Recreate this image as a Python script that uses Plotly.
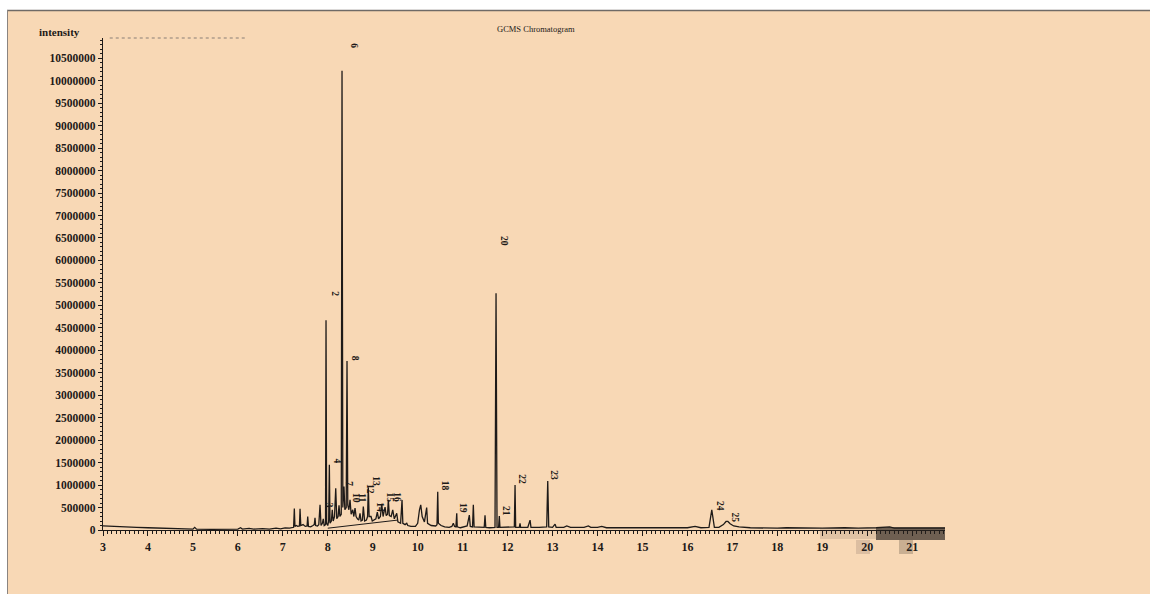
import plotly.graph_objects as go

# ---- data ----
retention_time = [
    3.00, 3.25, 3.50, 3.75, 4.00, 4.30, 4.60, 4.90, 5.00, 5.04, 5.08, 5.40, 5.70, 6.00, 6.06, 6.10,
    6.25, 6.35, 6.55, 6.70, 6.85, 6.95, 7.05, 7.15, 7.24, 7.256, 7.27, 7.30, 7.33, 7.37, 7.383, 7.40,
    7.45, 7.50, 7.54, 7.554, 7.57, 7.62, 7.67, 7.70, 7.716, 7.73, 7.77, 7.80, 7.828, 7.85, 7.88, 7.90,
    7.92, 7.95, 7.961, 7.975, 8.00, 8.02, 8.035, 8.05, 8.08, 8.10, 8.12, 8.15, 8.177, 8.20, 8.23, 8.25,
    8.27, 8.30, 8.317, 8.335, 8.36, 8.38, 8.41, 8.428, 8.445, 8.47, 8.495, 8.52, 8.555, 8.58, 8.606, 8.63,
    8.66, 8.69, 8.717, 8.74, 8.77, 8.791, 8.82, 8.86, 8.885, 8.902, 8.92, 8.962, 8.99, 9.03, 9.07, 9.102,
    9.13, 9.17, 9.20, 9.23, 9.274, 9.30, 9.33, 9.347, 9.37, 9.41, 9.445, 9.48, 9.534, 9.56, 9.62, 9.652,
    9.67, 9.72, 9.757, 9.78, 9.85, 9.95, 10.00, 10.04, 10.068, 10.10, 10.15, 10.20, 10.22, 10.30, 10.40, 10.43,
    10.446, 10.46, 10.52, 10.60, 10.70, 10.76, 10.793, 10.82, 10.85, 10.869, 10.88, 10.95, 11.05, 11.10, 11.149, 11.17,
    11.22, 11.238, 11.255, 11.35, 11.48, 11.498, 11.515, 11.60, 11.72, 11.743, 11.765, 11.80, 11.816, 11.83, 11.95, 12.10,
    12.15, 12.166, 12.18, 12.26, 12.277, 12.29, 12.45, 12.50, 12.52, 12.70, 12.87, 12.893, 12.915, 13.00, 13.056, 13.08,
    13.25, 13.316, 13.40, 13.70, 13.797, 13.85, 14.00, 14.094, 14.20, 14.60, 15.00, 15.50, 16.00, 16.17, 16.30, 16.48,
    16.542, 16.60, 16.70, 16.80, 16.86, 16.90, 16.95, 17.03, 17.15, 17.40, 17.80, 18.00, 18.20, 18.50, 19.00, 19.50,
    19.80, 20.20, 20.50, 20.60, 21.00, 21.40, 21.73,
]
intensity_millions = [
    0.09, 0.085, 0.07, 0.06, 0.05, 0.04, 0.03, 0.02, 0.02, 0.06, 0.02, 0.015, 0.02, 0.02, 0.05, 0.02,
    0.035, 0.02, 0.03, 0.02, 0.04, 0.025, 0.045, 0.04, 0.06, 0.48, 0.08, 0.10, 0.08, 0.09, 0.47, 0.10,
    0.12, 0.08, 0.09, 0.30, 0.08, 0.07, 0.10, 0.12, 0.27, 0.10, 0.09, 0.12, 0.56, 0.10, 0.15, 0.25,
    0.10, 0.12, 4.67, 0.15, 0.10, 0.20, 1.45, 0.15, 0.20, 0.45, 0.20, 0.30, 0.93, 0.25, 0.30, 0.55,
    0.30, 0.35, 10.22, 0.50, 0.97, 0.45, 0.50, 3.76, 0.55, 0.45, 0.67, 0.35, 0.45, 0.30, 0.49, 0.30,
    0.25, 0.22, 0.37, 0.20, 0.22, 0.52, 0.20, 0.22, 0.30, 0.95, 0.30, 0.30, 0.20, 0.22, 0.25, 0.40,
    0.25, 0.30, 0.58, 0.30, 0.51, 0.32, 0.35, 0.67, 0.32, 0.30, 0.45, 0.25, 0.37, 0.18, 0.15, 0.67,
    0.15, 0.12, 0.15, 0.10, 0.08, 0.08, 0.15, 0.45, 0.56, 0.30, 0.18, 0.50, 0.15, 0.10, 0.09, 0.12,
    0.85, 0.15, 0.10, 0.07, 0.06, 0.08, 0.15, 0.08, 0.07, 0.37, 0.07, 0.05, 0.07, 0.09, 0.33, 0.08,
    0.07, 0.56, 0.07, 0.06, 0.06, 0.33, 0.06, 0.05, 0.06, 5.27, 0.06, 0.06, 0.31, 0.06, 0.06, 0.06,
    0.07, 1.00, 0.06, 0.06, 0.15, 0.06, 0.06, 0.22, 0.06, 0.06, 0.07, 1.09, 0.07, 0.06, 0.13, 0.06,
    0.06, 0.09, 0.06, 0.06, 0.09, 0.06, 0.06, 0.08, 0.05, 0.05, 0.05, 0.05, 0.05, 0.08, 0.05, 0.06,
    0.45, 0.06, 0.06, 0.12, 0.19, 0.19, 0.14, 0.09, 0.07, 0.05, 0.04, 0.04, 0.05, 0.04, 0.04, 0.05,
    0.04, 0.05, 0.07, 0.04, 0.04, 0.05, 0.04,
]
intensity = [v * 1e6 for v in intensity_millions]

# integration baseline drawn under the 8-9.5 min cluster
baseline_rt = [8.00, 9.55]
baseline_intensity = [40000, 220000]

# peak number labels
peak_labels = ["2", "3", "4", "6", "7", "8", "10", "11", "12", "13", "14", "15", "16",
               "18", "19", "20", "21", "22", "23", "24", "25"]
label_rt = [8.16, 8.03, 8.21, 8.58, 8.47, 8.61, 8.63, 8.76, 8.94, 9.07, 9.16, 9.38, 9.54,
            10.61, 11.01, 11.92, 11.97, 12.32, 13.03, 16.73, 17.07]
label_intensity = [5250000, 560000, 1540000, 10770000, 1020000, 3830000, 710000, 710000, 910000,
                   1090000, 510000, 730000, 730000, 980000, 490000, 6430000, 420000, 1130000,
                   1220000, 530000, 290000]

x_tick_values = list(range(3, 22))
x_tick_labels = [str(v) for v in x_tick_values]
y_tick_values = list(range(0, 10500001, 500000))
y_tick_labels = [str(v) for v in y_tick_values]

# ---- figure ----
W, H = 1150, 594
ML, MR, MT, MB = 103, 205, 38, 64
PW, PH = W - ML - MR, H - MT - MB

def px(xp):
    return (xp - ML) / PW

def py(yp):
    return (H - MB - yp) / PH

peach = "#F8D8B5"
ink = "#1e1a18"
serif = "Liberation Serif, Times New Roman, serif"

fig = go.Figure()
fig.add_trace(go.Scatter(x=retention_time, y=intensity, mode="lines",
                         line=dict(color=ink, width=1.3), showlegend=False, hoverinfo="x+y"))
fig.add_trace(go.Scatter(x=baseline_rt, y=baseline_intensity, mode="lines",
                         line=dict(color=ink, width=1), showlegend=False, hoverinfo="skip"))

for t, xr, yv in zip(peak_labels, label_rt, label_intensity):
    fig.add_annotation(x=xr, y=yv, xref="x", yref="y", text="<b>%s</b>" % t, showarrow=False,
                       textangle=90, font=dict(family=serif, size=9.5, color=ink))

fig.add_annotation(x=px(536), y=py(29), xref="paper", yref="paper", text="GCMS Chromatogram",
                   showarrow=False, xanchor="center", yanchor="middle",
                   font=dict(family=serif, size=8.5, color=ink))
fig.add_annotation(x=px(59), y=py(32), xref="paper", yref="paper", text="<b>intensity</b>",
                   showarrow=False, xanchor="center", yanchor="middle",
                   font=dict(family=serif, size=11, color=ink))

shapes = [
    # white margin strips and scanner border
    dict(type="rect", xref="paper", yref="paper", x0=px(0), x1=px(W), y0=py(10), y1=py(0),
         fillcolor="white", line=dict(width=0), layer="above"),
    dict(type="rect", xref="paper", yref="paper", x0=px(0), x1=px(7), y0=py(H), y1=py(0),
         fillcolor="white", line=dict(width=0), layer="above"),
    dict(type="line", xref="paper", yref="paper", x0=px(7), x1=px(W), y0=py(10.5), y1=py(10.5),
         line=dict(color="#6f6a66", width=1.5)),
    dict(type="line", xref="paper", yref="paper", x0=px(7.5), x1=px(7.5), y0=py(H), y1=py(10),
         line=dict(color="#8a8480", width=1)),
    # faint top frame line
    dict(type="line", xref="paper", yref="paper", x0=0.008, x1=px(245), y0=1, y1=1,
         line=dict(color="#8a7f76", width=1, dash="dot")),
    # darkened scan band along the right end of the time axis
    dict(type="rect", xref="paper", yref="paper", x0=px(820), x1=px(876), y0=py(539), y1=py(528),
         fillcolor="rgba(60,50,45,0.12)", line=dict(width=0)),
    dict(type="rect", xref="paper", yref="paper", x0=px(876), x1=px(945), y0=py(540), y1=py(527),
         fillcolor="rgba(35,30,28,0.65)", line=dict(width=0)),
    dict(type="rect", xref="paper", yref="paper", x0=px(856), x1=px(870), y0=py(554), y1=py(540),
         fillcolor="rgba(60,50,45,0.15)", line=dict(width=0)),
    dict(type="rect", xref="paper", yref="paper", x0=px(899), x1=px(913), y0=py(554), y1=py(540),
         fillcolor="rgba(60,50,45,0.25)", line=dict(width=0)),
]

fig.update_layout(
    width=W, height=H, autosize=False,
    margin=dict(l=ML, r=MR, t=MT, b=MB, pad=0),
    paper_bgcolor=peach, plot_bgcolor="rgba(0,0,0,0)",
    shapes=shapes,
    showlegend=False,
    xaxis=dict(range=[3, 21.73], tickvals=x_tick_values, ticktext=x_tick_labels,
               showgrid=False, zeroline=False, showline=True, linecolor=ink, linewidth=1.3,
               ticks="outside", ticklen=5, tickwidth=1.2, tickcolor=ink,
               minor=dict(dtick=0.1, tick0=3, ticks="outside", ticklen=3, tickcolor=ink, tickwidth=1),
               tickfont=dict(family=serif, size=12, color=ink, weight="bold")),
    yaxis=dict(range=[0, 10.95e6], tickvals=y_tick_values, ticktext=y_tick_labels,
               showgrid=False, zeroline=False, showline=True, linecolor=ink, linewidth=1.2,
               ticks="outside", ticklen=4, tickwidth=1, tickcolor=ink,
               minor=dict(dtick=100000, tick0=0, ticks="outside", ticklen=2, tickcolor=ink, tickwidth=0.8),
               tickfont=dict(family=serif, size=11.5, color=ink, weight="bold")),
)

fig.write_html("out.html", config={"displayModeBar": False},
               post_script="document.body.style.margin='0';document.body.style.overflow='hidden';")
